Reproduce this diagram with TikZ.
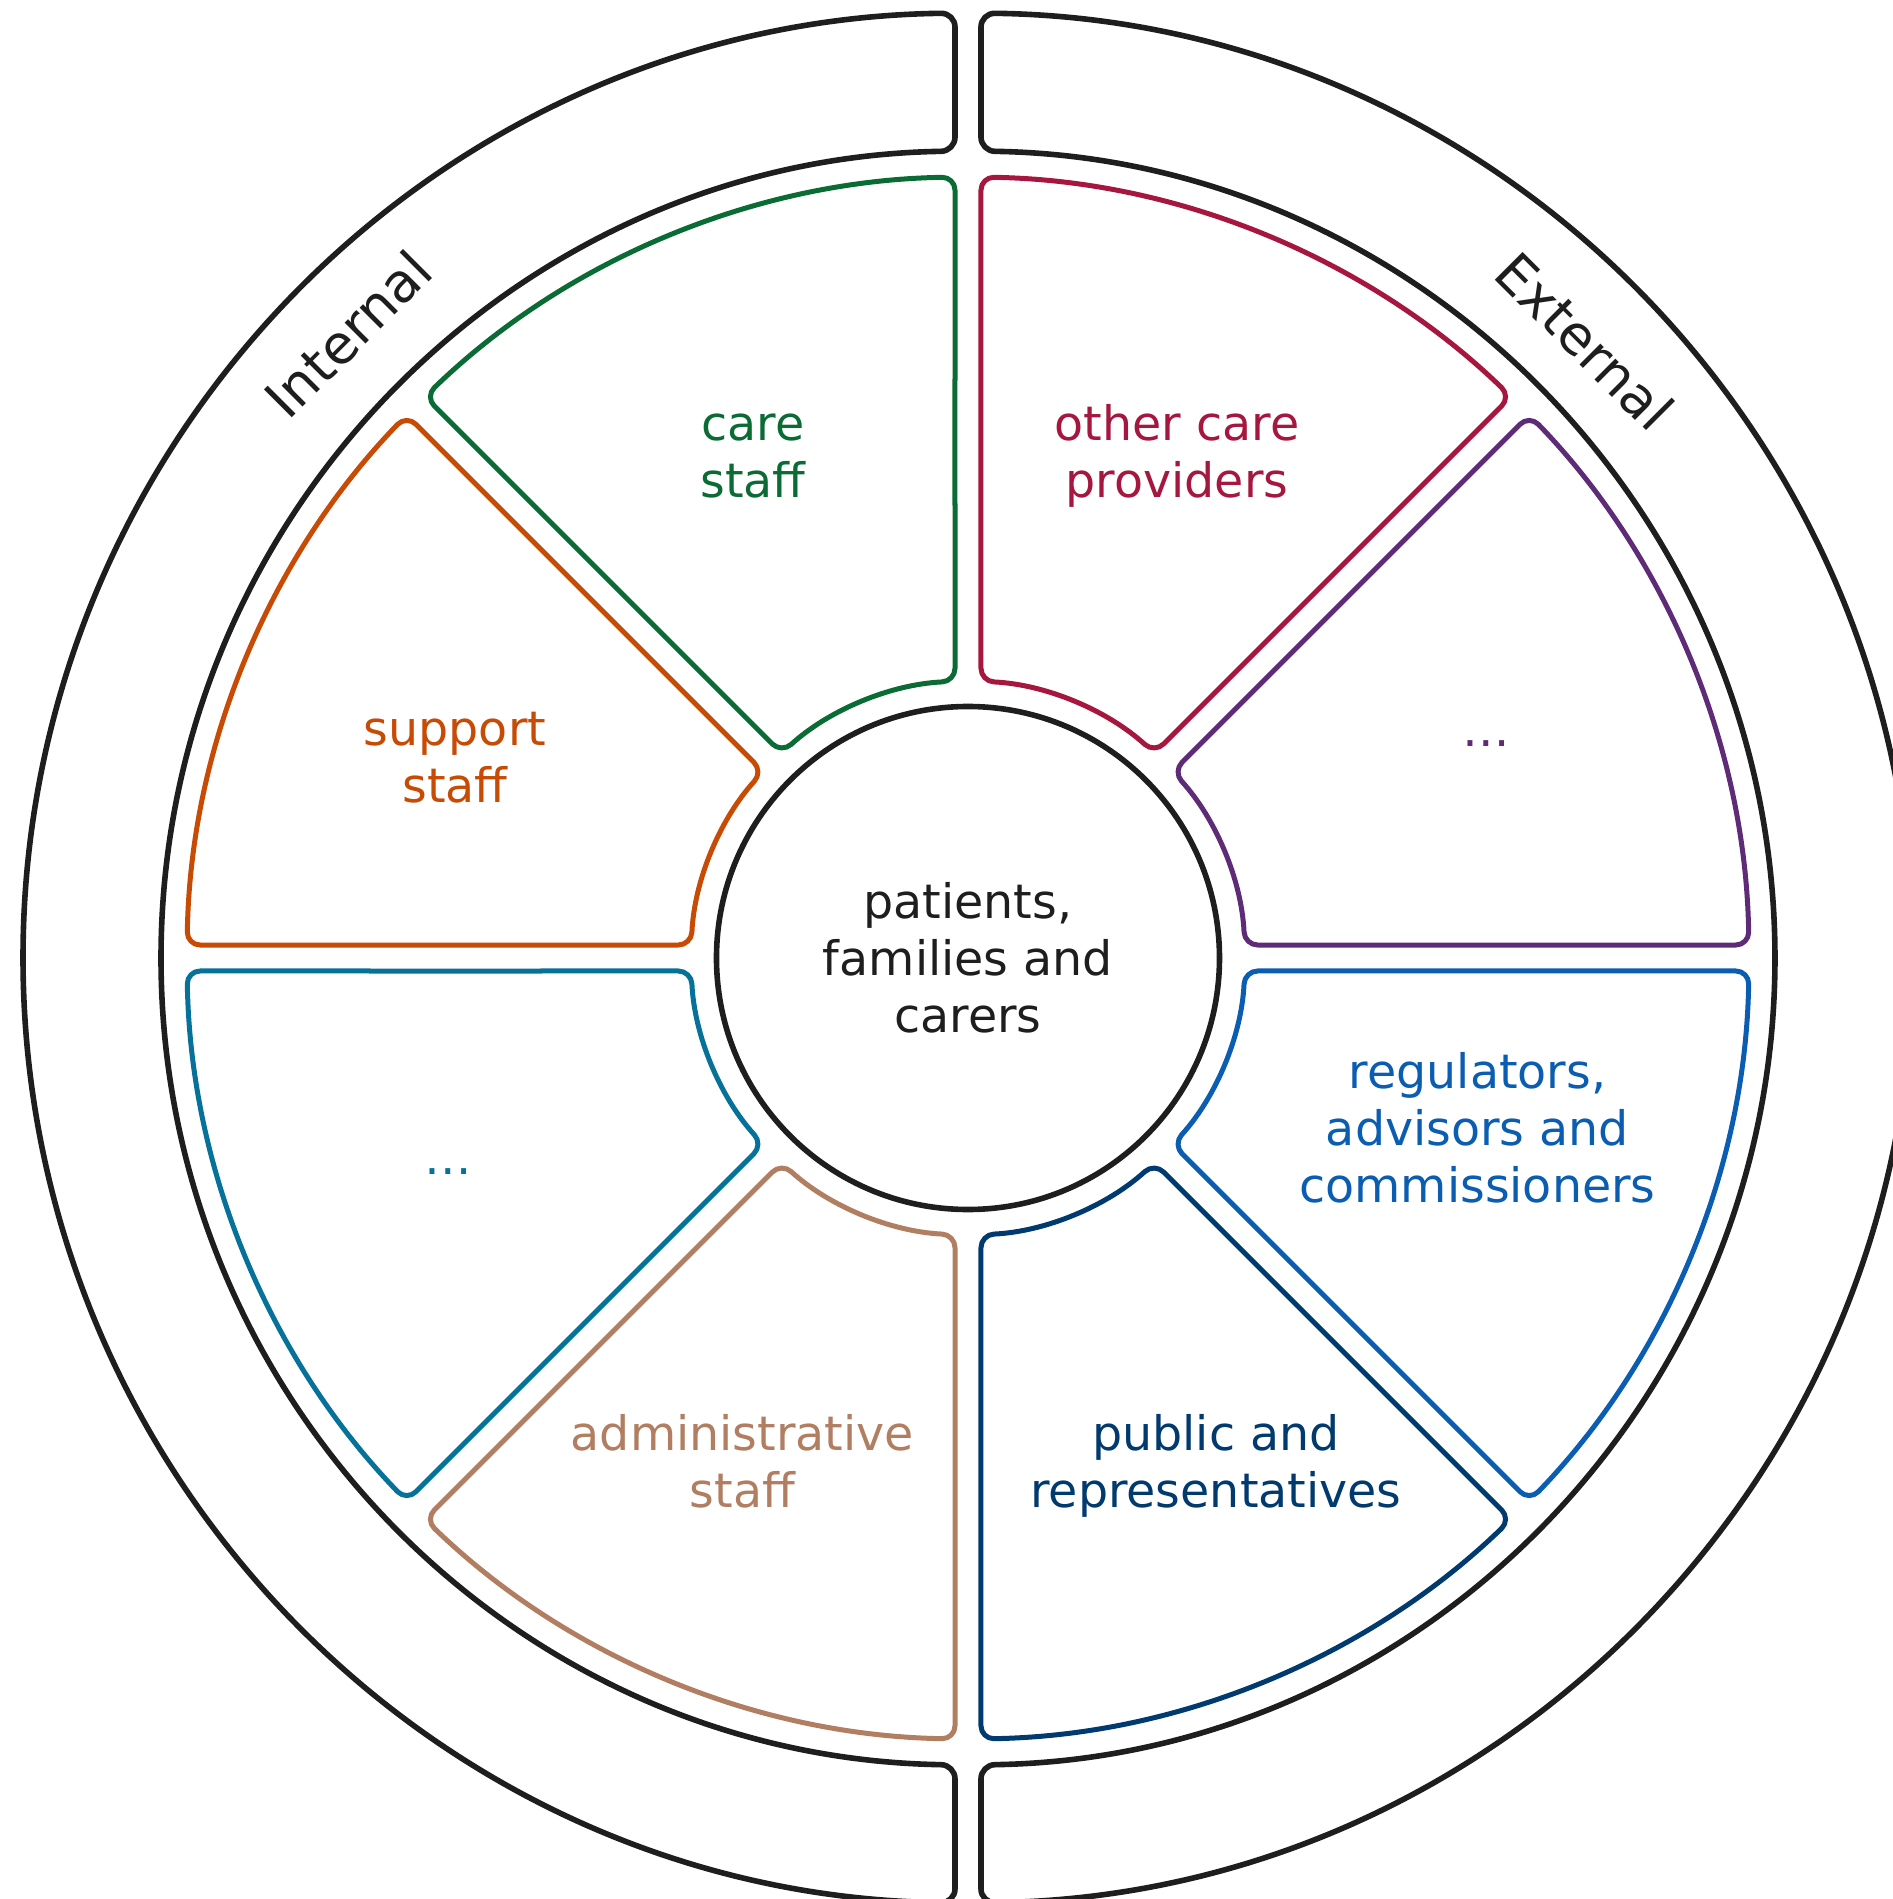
\documentclass[tikz,border=0pt]{standalone}
\usepackage{fontspec}
\setmainfont{DejaVu Sans}
\usetikzlibrary{calc}
\definecolor{cblack}{HTML}{1E1E1E}
\definecolor{cgreen}{HTML}{0B6B35}
\definecolor{cred}{HTML}{A6173F}
\definecolor{corange}{HTML}{C74B05}
\definecolor{cpurple}{HTML}{5E2C76}
\definecolor{cteal}{HTML}{06729A}
\definecolor{ctan}{HTML}{B17E62}
\definecolor{cblue}{HTML}{0A5DB0}
\definecolor{cnavy}{HTML}{003A6E}
\begin{document}
\begin{tikzpicture}[
  ring/.style={draw=cblack, line width=5.6pt, line join=round, rounded corners=14pt},
  seg/.style={line width=5pt, rounded corners=13pt, line join=round},
  lab/.style={font=\fontsize{47.5}{57}\selectfont, align=center, inner sep=0pt},
  side/.style={font=\fontsize{54}{64}\selectfont, text=cblack, inner sep=0pt}
]
\useasboundingbox (-968pt,-941pt) rectangle (925pt,958pt);
\clip (-968pt,-941pt) rectangle (925pt,958pt);
\pgfmathsetmacro{\dA}{asin(13/945)}
\pgfmathsetmacro{\dB}{asin(13/807)}
\pgfmathsetmacro{\dO}{asin(13/781)}
\pgfmathsetmacro{\dI}{asin(13/277)}
% outer ring halves
\draw[ring] (13pt,876pt) -- (90-\dA:945pt)
  arc[start angle=90-\dA, end angle=-90+\dA, radius=945pt]
  -- (-90+\dB:807pt)
  arc[start angle=-90+\dB, end angle=90-\dB, radius=807pt] -- cycle;
\draw[ring] (-13pt,876pt) -- (90+\dA:945pt)
  arc[start angle=90+\dA, end angle=270-\dA, radius=945pt]
  -- (270-\dB:807pt)
  arc[start angle=270-\dB, end angle=90+\dB, radius=807pt] -- cycle;
% sectors
\foreach \a/\c in {0/cpurple,45/cred,90/cgreen,135/corange,180/cteal,225/ctan,270/cnavy,315/cblue}{
  \draw[seg, draw=\c] ($(\a:529pt)+(\a+90:13pt)$) -- (\a+\dO:781pt)
    arc[start angle=\a+\dO, end angle=\a+45-\dO, radius=781pt]
    -- (\a+45-\dI:277pt)
    arc[start angle=\a+45-\dI, end angle=\a+\dI, radius=277pt] -- cycle;
}
% centre
\node[circle, draw=cblack, line width=5.6pt, minimum size=503pt, inner sep=0pt, lab, text=cblack] (patients) at (0pt,0pt) {patients,\\families and\\carers};
% labels
\node[lab, text=cgreen] (care) at (-215pt,502.4pt) {care\\staff};
\node[lab, text=cred] (other) at (209pt,502.5pt) {other care\\providers};
\node[lab, text=corange] (support) at (-513pt,200pt) {support\\staff};
\node[lab, text=cpurple, anchor=base] (dotsA) at (518pt,212pt) {…};
\node[lab, text=cteal, anchor=base] (dotsB) at (-520pt,-216pt) {…};
\node[lab, text=cblue] (reg) at (509.5pt,-169.3pt) {regulators,\\advisors and\\commissioners};
\node[lab, text=ctan] (admin) at (-225.6pt,-502.9pt) {administrative\\staff};
\node[lab, text=cnavy] (public) at (248pt,-507.8pt) {public and\\representatives};
\node[side, rotate=45] (internal) at (-620pt,624pt) {Internal};
\node[side, rotate=-45] (external) at (617pt,617pt) {External};
\end{tikzpicture}
\end{document}
